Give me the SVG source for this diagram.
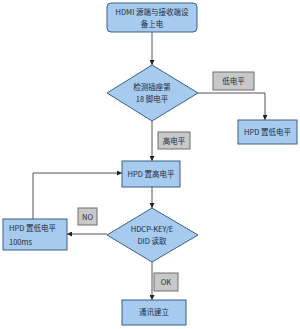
<svg xmlns="http://www.w3.org/2000/svg" width="300" height="329" viewBox="0 0 300 329">
<style>
.n{fill:#a6cbee;stroke:#3d5f86;stroke-width:1}
.l{fill:#c8c8c8;stroke:#6e6e6e;stroke-width:1}
.t{font-family:"Noto Sans CJK SC","Liberation Sans",sans-serif;font-size:7.5px;fill:#1a2a40}
.e{fill:none;stroke:#555;stroke-width:1;marker-end:url(#a)}
.e2{fill:none;stroke:#555;stroke-width:1}
</style>
<defs>
<marker id="a" viewBox="0 0 6 6" refX="6" refY="3" markerWidth="5" markerHeight="5" orient="auto"><path d="M0,0L6,3L0,6z" fill="#222"/></marker>
</defs>
<rect width="300" height="329" fill="#fff"/>
<g id="connectors">
<path class="e" d="M152,32V65"/>
<path class="e" d="M198,93H265V120"/>
<path class="e" d="M152,121V161"/>
<path class="e" d="M152,187V208"/>
<path class="e" d="M107,234H67"/>
<path class="e" d="M33,219V173H122"/>
<path class="e" d="M152,262V300"/>
</g>
<g id="start">
<rect class="n" x="107" y="3" width="90" height="29" rx="4"/>
<text class="t" x="152" y="15" text-anchor="middle">HDMI 源端与接收端设</text>
<text class="t" x="152" y="27" text-anchor="middle">备上电</text>
</g>
<g id="check18">
<polygon class="n" points="152,65 198,93 152,121 107,93"/>
<text class="t" x="152" y="90" text-anchor="middle">检测插座第</text>
<text class="t" x="152" y="102" text-anchor="middle">18 脚电平</text>
</g>
<g id="lbl-low">
<rect class="l" x="213" y="72" width="41" height="18"/>
<text class="t" x="233.5" y="84" text-anchor="middle">低电平</text>
</g>
<g id="hpd-low">
<rect class="n" x="238" y="120" width="59" height="24"/>
<text class="t" x="267.5" y="135" text-anchor="middle">HPD 置低电平</text>
</g>
<g id="lbl-high">
<rect class="l" x="158" y="132" width="32" height="17"/>
<text class="t" x="174" y="143.5" text-anchor="middle">高电平</text>
</g>
<g id="hpd-high">
<rect class="n" x="122" y="161" width="58" height="26"/>
<text class="t" x="151" y="177" text-anchor="middle">HPD 置高电平</text>
</g>
<g id="hdcp">
<polygon class="n" points="152,208 198,235 152,262 107,235"/>
<text class="t" x="152" y="232" text-anchor="middle">HDCP-KEY/E</text>
<text class="t" x="152" y="244" text-anchor="middle">DID 读取</text>
</g>
<g id="lbl-no">
<rect class="l" x="78" y="208" width="19" height="17"/>
<text class="t" x="87.5" y="219.5" text-anchor="middle">NO</text>
</g>
<g id="hpd-low-100">
<rect class="n" x="3" y="219" width="64" height="31"/>
<text class="t" x="9" y="231">HPD 置低电平</text>
<text class="t" x="9" y="245">100ms</text>
</g>
<g id="lbl-ok">
<rect class="l" x="154" y="273" width="24" height="18"/>
<text class="t" x="166" y="285" text-anchor="middle">OK</text>
</g>
<g id="done">
<rect class="n" x="122" y="300" width="64" height="25"/>
<text class="t" x="154" y="315" text-anchor="middle">通讯建立</text>
</g>
</svg>
